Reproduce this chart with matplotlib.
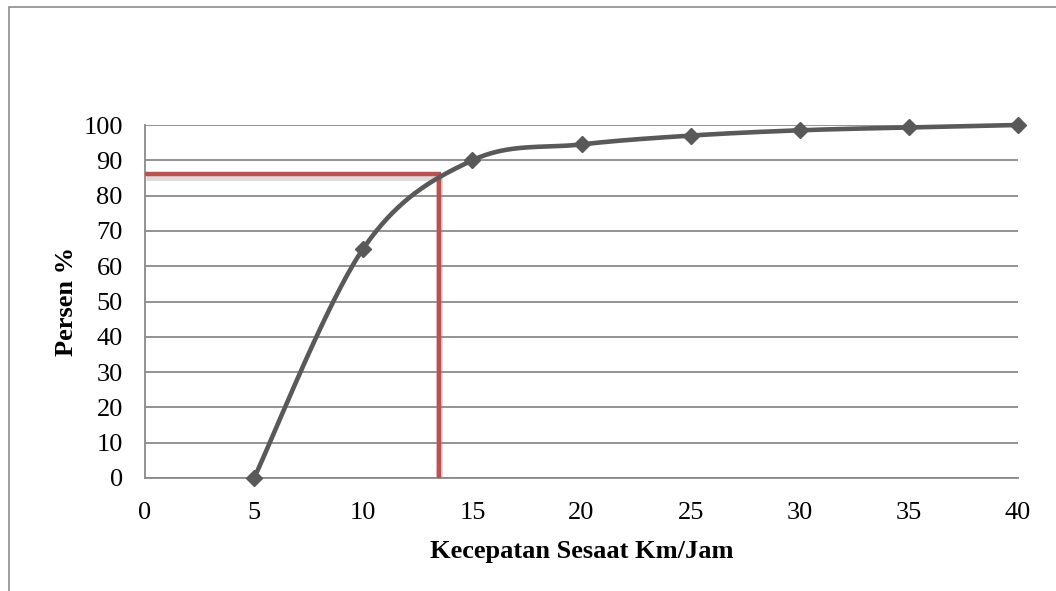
import numpy as np
import matplotlib
matplotlib.use("Agg")
import matplotlib.pyplot as plt
import matplotlib.patheffects as pe
from matplotlib.patches import Rectangle

# Data
speed = [5, 10, 15, 20, 25, 30, 35, 40]
percent = [0, 65, 90, 94.5, 97, 98.5, 99.3, 100]
x_ticks = [0, 5, 10, 15, 20, 25, 30, 35, 40]
y_ticks = [0, 10, 20, 30, 40, 50, 60, 70, 80, 90, 100]
ref_x = 13.45
ref_y = 86.2

plt.rcParams['font.family'] = ['Liberation Serif', 'DejaVu Serif']

W, H = 1056, 591
fig = plt.figure(figsize=(W / 100, H / 100), dpi=100)
ax_left, ax_right, ax_bottom, ax_top = 145 / W, 1018 / W, 1 - 478 / H, 1 - 125 / H
ax = fig.add_axes([ax_left, ax_bottom, ax_right - ax_left, ax_top - ax_bottom])

# Figure border (left and top visible)
fig.patches.append(Rectangle((9 / W, -0.05), 1.1, 1 - 7 / H + 0.05, transform=fig.transFigure,
                             fill=False, edgecolor='#8c8c8c', linewidth=1.2))

ax.set_xlim(0, 40)
ax.set_ylim(0, 100)

# Excel-like smoothing: Bezier spline in pixel space
axw = (ax_right - ax_left) * W
axh = (ax_top - ax_bottom) * H
px = np.array(speed) / 40 * axw
py = np.array(percent) / 100 * axh
P = np.column_stack([px, py])
n = len(P)
curve = []
for i in range(n - 1):
    p0 = P[i - 1] if i > 0 else P[i]
    p1 = P[i]
    p2 = P[i + 1]
    p3 = P[i + 2] if i + 2 < n else P[i + 1]
    c1 = p1 + (p2 - p0) / 6
    c2 = p2 - (p3 - p1) / 6
    t = np.linspace(0, 1, 60)[:, None]
    seg = (1 - t) ** 3 * p1 + 3 * (1 - t) ** 2 * t * c1 + 3 * (1 - t) * t ** 2 * c2 + t ** 3 * p2
    curve.append(seg if i == 0 else seg[1:])
curve = np.vstack(curve)
cx = curve[:, 0] / axw * 40
cy = curve[:, 1] / axh * 100

ax.yaxis.grid(True, color='#8a8a8a', linewidth=1.3)
ax.set_axisbelow(True)
for s in ['top', 'right']:
    ax.spines[s].set_visible(False)
for s in ['left', 'bottom']:
    ax.spines[s].set_color('#8a8a8a')
    ax.spines[s].set_linewidth(1.3)

shadow = [pe.SimpleLineShadow(offset=(0.5, -2.5), shadow_color='#9a9a9a', alpha=0.35, linewidth=5),
          pe.Normal()]
ax.plot([0, ref_x + 0.1], [ref_y, ref_y], color='#C0504D', linewidth=3.2,
        solid_capstyle='butt', path_effects=shadow, zorder=3)
ax.plot([ref_x, ref_x], [0, ref_y], color='#C0504D', linewidth=3.2,
        solid_capstyle='butt', path_effects=shadow, zorder=3)

ax.plot(cx, cy, color='#595959', linewidth=3.3, zorder=4, clip_on=False)
ax.plot(speed, percent, linestyle='none', marker='D', markersize=8.5,
        color='#595959', zorder=5, clip_on=False)

ax.set_xticks(x_ticks)
ax.set_yticks(y_ticks)
ax.tick_params(axis='both', length=0, labelsize=19, colors='black')
ax.tick_params(axis='x', pad=17)
ax.tick_params(axis='y', pad=16)

ax.set_xlabel('Kecepatan Sesaat Km/Jam', fontsize=19, fontweight='bold', labelpad=12)
ax.set_ylabel('Persen %', fontsize=19, fontweight='bold', labelpad=4)

fig.savefig('out.png', dpi=100)
